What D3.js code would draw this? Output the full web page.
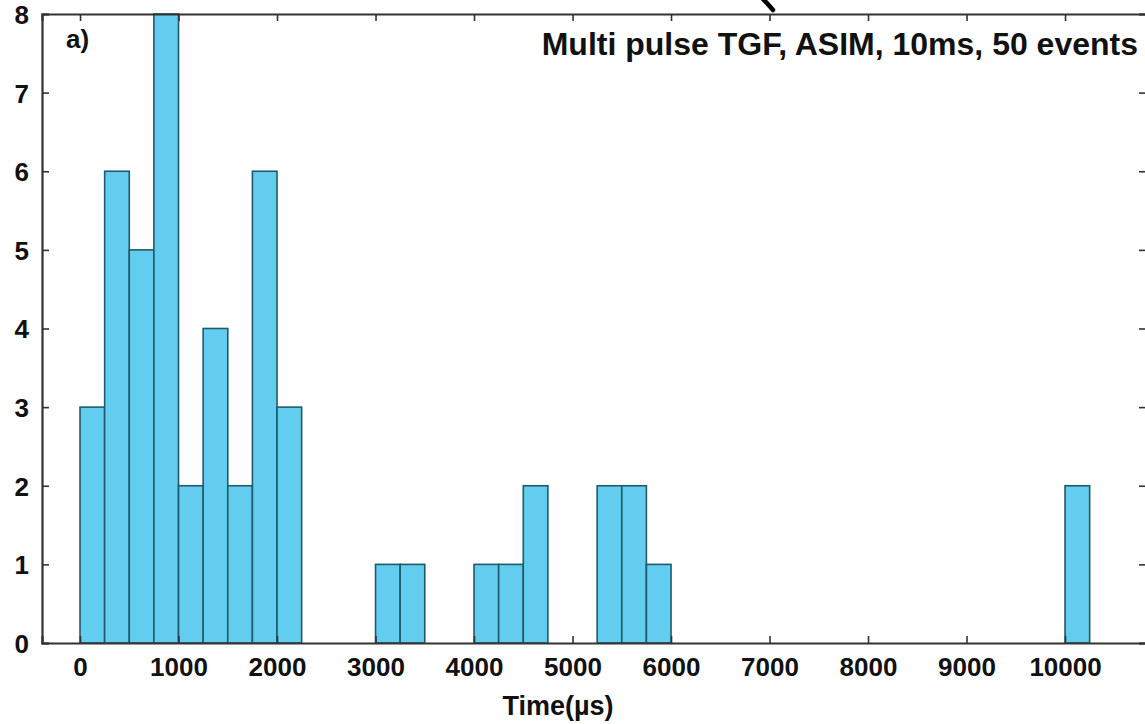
<!DOCTYPE html>
<html>
<head>
<meta charset="utf-8">
<script src="https://cdn.jsdelivr.net/npm/d3@7"></script>
<style>
  html, body { margin: 0; padding: 0; background: #fff; }
  svg { display: block; }
  text { font-family: "Liberation Sans", Arial, sans-serif; font-weight: bold; fill: #111; }
</style>
</head>
<body>
<svg id="chart" width="1145" height="724"></svg>
<script>
// ---- data ----
const binStarts = [0, 250, 500, 750, 1000, 1250, 1500, 1750, 2000,
                   3000, 3250, 4000, 4250, 4500, 5250, 5500, 5750, 10000];
const counts    = [3, 6, 5, 8, 2, 4, 2, 6, 3,
                   1, 1, 1, 1, 2, 2, 2, 1, 2];
const binWidth = 250;
const xTicks = [0, 1000, 2000, 3000, 4000, 5000, 6000, 7000, 8000, 9000, 10000];
const yTicks = [0, 1, 2, 3, 4, 5, 6, 7, 8];
const title = "Multi pulse TGF, ASIM, 10ms, 50 events";
const panelLabel = "a)";
const xLabel = "Time(\u00b5s)";

(function () {
// ---- layout ----
const svg = d3.select("#chart");
const pLeft = 42, pRight = 1146, pTop = 14, pBottom = 643;

const x = d3.scaleLinear().domain([-386, 10822]).range([pLeft, pRight]);
const y = d3.scaleLinear().domain([0, 8]).range([pBottom, pTop]);

const axisColor = "#333";
const fmt = d3.format("d");

// bars
svg.append("g").selectAll("rect")
  .data(binStarts.map((s, i) => ({ s, c: counts[i] })))
  .join("rect")
  .attr("x", d => x(d.s))
  .attr("width", d => x(d.s + binWidth) - x(d.s))
  .attr("y", d => y(d.c))
  .attr("height", d => y(0) - y(d.c))
  .attr("fill", "#62cdee")
  .attr("stroke", "#22596a")
  .attr("stroke-width", 1.6);

// axes with inward ticks
const tickLen = 7;
const bottomAxis = svg.append("g")
  .attr("transform", `translate(0,${pBottom})`)
  .call(d3.axisBottom(x).tickValues(xTicks).tickFormat(fmt).tickSize(-tickLen).tickPadding(tickLen + 8));
const topAxis = svg.append("g")
  .attr("transform", `translate(0,${pTop})`)
  .call(d3.axisTop(x).tickValues(xTicks).tickSize(-tickLen).tickFormat(""));
const leftAxis = svg.append("g")
  .attr("transform", `translate(${pLeft},0)`)
  .call(d3.axisLeft(y).tickValues(yTicks).tickFormat(fmt).tickSize(-tickLen).tickPadding(tickLen + 6));
const rightAxis = svg.append("g")
  .attr("transform", `translate(${pRight},0)`)
  .call(d3.axisRight(y).tickValues(yTicks).tickSize(-tickLen).tickFormat(""));

[bottomAxis, topAxis, leftAxis, rightAxis].forEach(g => {
  g.select(".domain").attr("stroke", axisColor).attr("stroke-width", 2.2);
  g.selectAll(".tick line").attr("stroke", axisColor).attr("stroke-width", 1.6);
  g.selectAll(".tick text")
    .attr("font-family", "Liberation Sans, Arial, sans-serif")
    .attr("font-weight", "bold")
    .attr("font-size", 26)
    .attr("fill", "#111");
});
leftAxis.selectAll(".tick text").attr("dy", "0.36em");

// x label
svg.append("text")
  .attr("x", 558).attr("y", 715)
  .attr("text-anchor", "middle")
  .attr("font-size", 27)
  .text(xLabel);

// title
svg.append("text")
  .attr("x", 1138).attr("y", 55)
  .attr("text-anchor", "end")
  .attr("font-size", 32)
  .text(title);

// panel label
svg.append("text")
  .attr("x", 66).attr("y", 48)
  .attr("font-size", 26)
  .text(panelLabel);

// stray glyph fragment at the top edge of the cropped figure
svg.append("path")
  .attr("d", "M762,-2 Q768,4 773,10")
  .attr("fill", "none")
  .attr("stroke", "#000")
  .attr("stroke-width", 4.5)
  .attr("stroke-linecap", "round");
})();
</script>
</body>
</html>
